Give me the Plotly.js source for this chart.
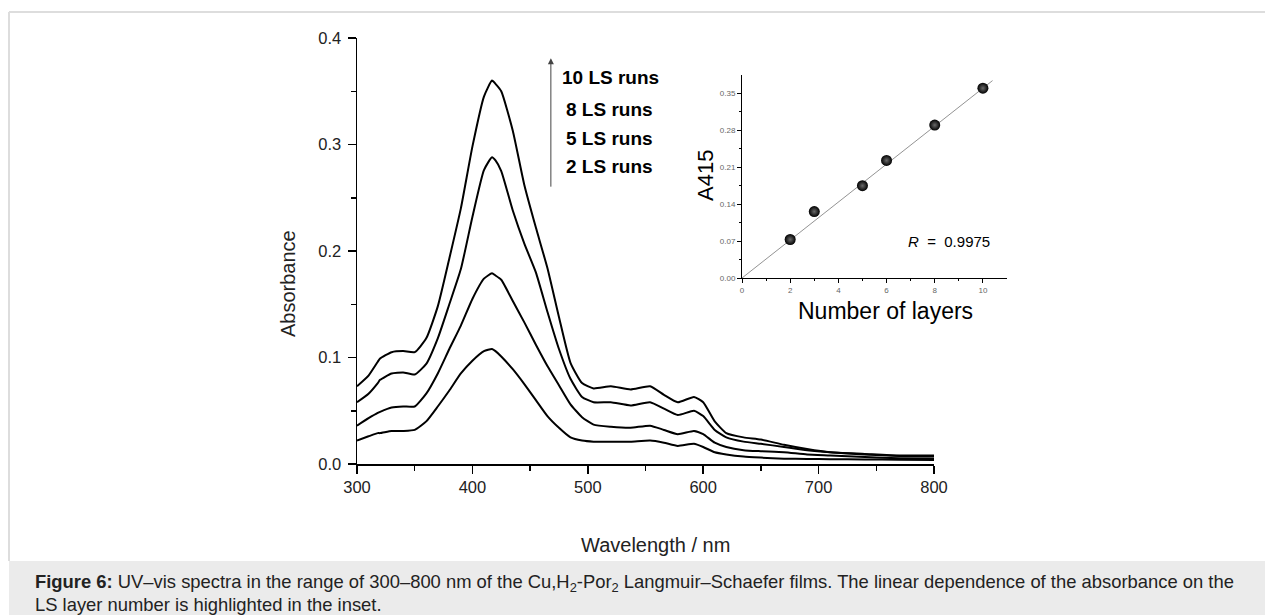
<!DOCTYPE html>
<html>
<head>
<meta charset="utf-8">
<script src="https://cdn.plot.ly/plotly-3.0.1.min.js"></script>
<style>
  html, body { margin: 0; padding: 0; background: #ffffff; }
  #chart { width: 1265px; height: 615px; }
</style>
</head>
<body>
<div id="chart"></div>
<script>
// ---- Main spectra data (wavelength in nm, absorbance) ----
const wavelength = [300, 310, 318, 320, 330, 340, 350, 360, 370, 380, 390, 400, 410, 417, 420, 425, 435, 445, 455, 465, 475, 485, 495, 505, 520, 537, 554, 566, 578, 592, 600, 610, 620, 635, 650, 670, 690, 710, 740, 770, 800];
const abs10 = [0.073, 0.083, 0.096, 0.099, 0.105, 0.106, 0.105, 0.118, 0.148, 0.193, 0.240, 0.298, 0.345, 0.360, 0.357, 0.350, 0.313, 0.262, 0.222, 0.184, 0.138, 0.095, 0.076, 0.071, 0.073, 0.070, 0.073, 0.065, 0.058, 0.063, 0.058, 0.040, 0.029, 0.025, 0.023, 0.018, 0.014, 0.011, 0.0095, 0.008, 0.008];
const abs8  = [0.058, 0.066, 0.076, 0.079, 0.085, 0.086, 0.084, 0.094, 0.118, 0.150, 0.183, 0.232, 0.276, 0.288, 0.285, 0.275, 0.238, 0.207, 0.180, 0.143, 0.108, 0.080, 0.063, 0.058, 0.058, 0.055, 0.058, 0.052, 0.046, 0.050, 0.045, 0.032, 0.025, 0.021, 0.019, 0.016, 0.013, 0.011, 0.009, 0.0075, 0.007];
const abs5  = [0.036, 0.043, 0.048, 0.049, 0.053, 0.054, 0.054, 0.066, 0.085, 0.108, 0.130, 0.155, 0.174, 0.179, 0.177, 0.173, 0.153, 0.133, 0.112, 0.092, 0.074, 0.056, 0.044, 0.037, 0.035, 0.034, 0.036, 0.032, 0.028, 0.031, 0.028, 0.020, 0.016, 0.013, 0.012, 0.011, 0.009, 0.008, 0.0065, 0.0055, 0.005];
const abs2  = [0.022, 0.026, 0.029, 0.029, 0.031, 0.031, 0.032, 0.040, 0.054, 0.069, 0.085, 0.097, 0.106, 0.108, 0.106, 0.101, 0.089, 0.075, 0.060, 0.045, 0.034, 0.025, 0.022, 0.021, 0.021, 0.021, 0.022, 0.020, 0.017, 0.019, 0.016, 0.011, 0.009, 0.007, 0.006, 0.005, 0.0047, 0.0045, 0.0043, 0.004, 0.0038];
const seriesLabels = ["10 LS runs", "8 LS runs", "5 LS runs", "2 LS runs"];

// ---- Inset data ----
const layers = [2, 3, 5, 6, 8, 10];
const a415 = [0.073, 0.126, 0.175, 0.223, 0.290, 0.360];
const fitX = [0, 10.4];
const fitY = [0, 0.3744];
const rText = "<i>R</i>  =  0.9975";

// ---- Tick values ----
const xTicks = [300, 400, 500, 600, 700, 800];
const yTicks = [0.0, 0.1, 0.2, 0.3, 0.4];
const insetXTicks = [0, 2, 4, 6, 8, 10];
const insetYTicks = [0.00, 0.07, 0.14, 0.21, 0.28, 0.35];

const W = 1265, H = 615;
const px = v => v / W;
const py = v => 1 - v / H;

const lineStyle = {color: '#000000', width: 2, shape: 'spline', smoothing: 0.5};
const spectra = [abs10, abs8, abs5, abs2].map((s, i) => ({
  type: 'scatter', mode: 'lines', x: wavelength, y: s,
  name: seriesLabels[i], line: lineStyle, xaxis: 'x', yaxis: 'y', hoverinfo: 'skip'
}));

const fitTrace = {
  type: 'scatter', mode: 'lines', x: fitX, y: fitY,
  line: {color: '#777777', width: 0.8}, xaxis: 'x2', yaxis: 'y2', hoverinfo: 'skip'
};
const pointsTrace = {
  type: 'scatter', mode: 'markers', x: layers, y: a415,
  marker: {size: 11, color: '#000000', gradient: {type: 'radial', color: '#6a6a6a'}, line: {width: 0}},
  xaxis: 'x2', yaxis: 'y2', hoverinfo: 'skip'
};

const font = 'Liberation Sans, Arial, sans-serif';
const labelFont = {family: font, size: 19, color: '#000'};
const captionFont = {family: font, size: 18.4, color: '#222'};

const annotations = [
  // arrow
  {xref: 'x', yref: 'y', axref: 'x', ayref: 'y', x: 468, y: 0.381, ax: 468, ay: 0.259,
   showarrow: true, arrowhead: 2, arrowsize: 1.2, arrowwidth: 1, arrowcolor: '#444', text: ''},
  {xref: 'x', yref: 'y', x: 476, y: 0.363, xanchor: 'left', yanchor: 'middle', showarrow: false,
   text: '<b>' + seriesLabels[0] + '</b>', font: labelFont},
  {xref: 'x', yref: 'y', x: 479, y: 0.333, xanchor: 'left', yanchor: 'middle', showarrow: false,
   text: '<b>' + seriesLabels[1] + '</b>', font: labelFont},
  {xref: 'x', yref: 'y', x: 479, y: 0.306, xanchor: 'left', yanchor: 'middle', showarrow: false,
   text: '<b>' + seriesLabels[2] + '</b>', font: labelFont},
  {xref: 'x', yref: 'y', x: 479, y: 0.279, xanchor: 'left', yanchor: 'middle', showarrow: false,
   text: '<b>' + seriesLabels[3] + '</b>', font: labelFont},
  // R value in inset
  {xref: 'x2', yref: 'y2', x: 6.8, y: 0.07, xanchor: 'left', yanchor: 'middle', showarrow: false,
   text: rText, font: {family: font, size: 15, color: '#000'}},
  // axis titles
  {xref: 'paper', yref: 'paper', x: px(655), y: py(545), xanchor: 'center', yanchor: 'middle', showarrow: false,
   text: 'Wavelength / nm', font: {family: font, size: 20, color: '#222'}},
  {xref: 'paper', yref: 'paper', x: px(288), y: py(284), xanchor: 'center', yanchor: 'middle', showarrow: false,
   textangle: -90, text: 'Absorbance', font: {family: font, size: 20, color: '#222'}},
  {xref: 'paper', yref: 'paper', x: px(886), y: py(311), xanchor: 'center', yanchor: 'middle', showarrow: false,
   text: 'Number of layers', font: {family: font, size: 23, color: '#000'}},
  {xref: 'paper', yref: 'paper', x: px(706), y: py(176), xanchor: 'center', yanchor: 'middle', showarrow: false,
   textangle: -90, text: 'A415', font: {family: font, size: 22, color: '#000'}},
  // caption
  {xref: 'paper', yref: 'paper', x: px(33), y: py(583), xanchor: 'left', yanchor: 'middle', align: 'left',
   showarrow: false,
   text: '<b>Figure 6:</b> UV–vis spectra in the range of 300–800 nm of the Cu,H<sub>2</sub>-Por<sub>2</sub> Langmuir–Schaefer films. The linear dependence of the absorbance on the',
   font: captionFont},
  {xref: 'paper', yref: 'paper', x: px(33), y: py(604), xanchor: 'left', yanchor: 'middle', align: 'left',
   showarrow: false, text: 'LS layer number is highlighted in the inset.', font: captionFont}
];

const shapes = [
  // caption box
  {type: 'rect', xref: 'paper', yref: 'paper', x0: px(9), x1: 1, y0: 0, y1: py(561),
   fillcolor: '#ebebeb', line: {width: 0}, layer: 'below'},
  // frame top and left
  {type: 'line', xref: 'paper', yref: 'paper', x0: px(9), x1: 1, y0: py(12), y1: py(12),
   line: {color: '#dddddd', width: 2}},
  {type: 'line', xref: 'paper', yref: 'paper', x0: px(9), x1: px(9), y0: py(12), y1: py(561),
   line: {color: '#dddddd', width: 2}}
];

const axisCommon = {
  showgrid: false, zeroline: false, showline: true, linecolor: '#000', linewidth: 1.5,
  ticks: 'outside', tickcolor: '#000', tickwidth: 1.5, ticklen: 8,
  tickfont: {family: font, size: 16.5, color: '#222'}
};

const layout = {
  width: W, height: H,
  margin: {l: 0, r: 0, t: 0, b: 0},
  paper_bgcolor: '#ffffff', plot_bgcolor: 'rgba(0,0,0,0)',
  showlegend: false,
  xaxis: Object.assign({}, axisCommon, {
    domain: [px(357), px(934)], range: [300, 800],
    tickvals: xTicks, ticktext: xTicks.map(String),
    minor: {tickvals: [350, 450, 550, 650, 750], ticks: 'outside', ticklen: 5, tickcolor: '#000', tickwidth: 1.5},
    anchor: 'y'
  }),
  yaxis: Object.assign({}, axisCommon, {
    domain: [1 - 464 / H, 1 - 38 / H], range: [0, 0.4],
    tickvals: yTicks, ticktext: yTicks.map(v => v.toFixed(1)),
    minor: {tickvals: [0.05, 0.15, 0.25, 0.35], ticks: 'outside', ticklen: 5, tickcolor: '#000', tickwidth: 1.5},
    ticklabelstandoff: 3,
    anchor: 'x'
  }),
  xaxis2: {
    domain: [px(742), px(1007)], range: [0, 11], anchor: 'y2',
    showgrid: false, zeroline: false, showline: true, linecolor: '#000', linewidth: 1,
    ticks: 'outside', ticklen: 4, tickcolor: '#000', tickwidth: 1,
    tickvals: insetXTicks, ticktext: insetXTicks.map(String),
    minor: {tickvals: [1, 3, 5, 7, 9], ticks: 'outside', ticklen: 2, tickcolor: '#000', tickwidth: 1},
    tickfont: {family: font, size: 8, color: '#666'}
  },
  yaxis2: {
    domain: [1 - 278 / H, 1 - 75 / H], range: [0, 0.385], anchor: 'x2',
    showgrid: false, zeroline: false, showline: true, linecolor: '#000', linewidth: 1,
    ticks: 'outside', ticklen: 4, tickcolor: '#000', tickwidth: 1,
    tickvals: insetYTicks, ticktext: insetYTicks.map(v => v.toFixed(2)),
    minor: {tickvals: [0.035, 0.105, 0.175, 0.245, 0.315], ticks: 'outside', ticklen: 2, tickcolor: '#000', tickwidth: 1},
    tickfont: {family: font, size: 8, color: '#666'}
  },
  annotations: annotations,
  shapes: shapes
};

Plotly.newPlot('chart', spectra.concat([fitTrace, pointsTrace]), layout, {displayModeBar: false, staticPlot: true});
</script>
</body>
</html>
